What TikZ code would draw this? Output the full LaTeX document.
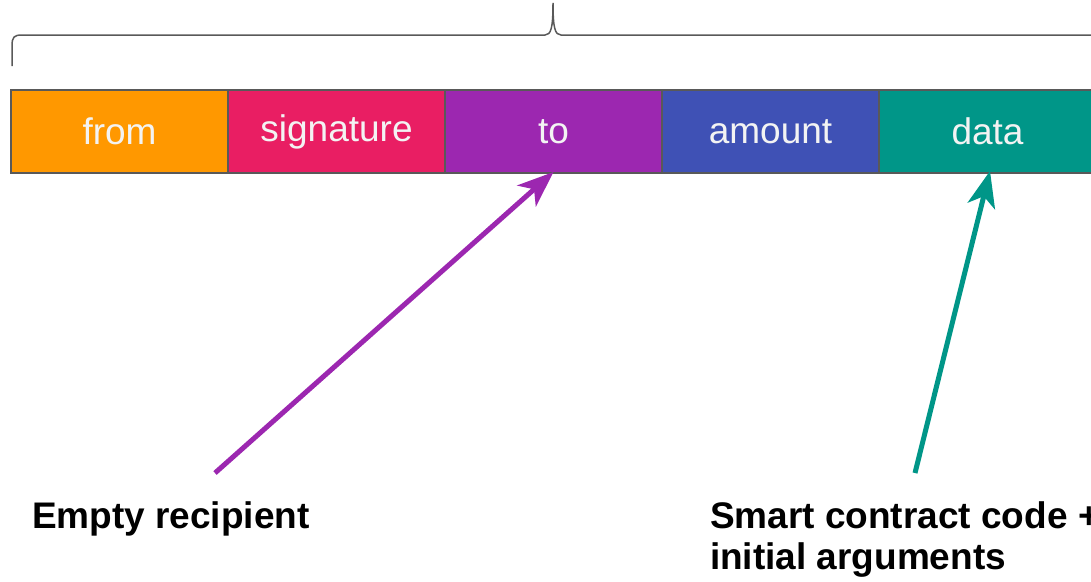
\documentclass[tikz,border=0pt]{standalone}
\usepackage{fontspec}
\setmainfont{Liberation Sans}
\usetikzlibrary{arrows.meta}
\definecolor{cOrange}{HTML}{FF9800}
\definecolor{cPink}{HTML}{E91E63}
\definecolor{cPurple}{HTML}{9C27B0}
\definecolor{cIndigo}{HTML}{3F51B5}
\definecolor{cTeal}{HTML}{009688}
\definecolor{cEdge}{HTML}{595959}
\definecolor{cText}{HTML}{F3F3F3}
\tikzset{
  field/.style={draw=cEdge, line width=2pt, minimum width=217pt, minimum height=83pt,
    inner sep=0pt, outer sep=0pt, text=cText, font=\fontsize{37}{40}\selectfont},
  note/.style={inner sep=0pt, outer sep=0pt, anchor=base west, align=left,
    font=\fontsize{37}{41}\selectfont\bfseries},
  pointer/.style={line width=5pt, -{Stealth[length=36pt,width=28pt,inset=10pt]}},
}
\begin{document}
\begin{tikzpicture}[x=1pt,y=-1pt]
\useasboundingbox (0,0) rectangle (1091,581);
\begin{scope}
\clip (0,0) rectangle (1091,581);
% transaction fields
\node[field, fill=cOrange] (from)   at (119.5,131.5) {from};
\node[field, fill=cPink]   (sig)    at (336.5,131.5) {signature};
\node[field, fill=cPurple] (to)     at (553.5,131.5) {to};
\node[field, fill=cIndigo] (amount) at (770.5,131.5) {amount};
\node[field, fill=cTeal]   (data)   at (987.5,131.5) {data};
% brace over the whole transaction
\draw[cEdge, line width=1.5pt]
  (12,66) -- (12,46) .. controls (12,37) and (14,35) .. (22,35)
  -- (545,35) .. controls (551,35) and (553,28) .. (553,3)
  .. controls (553,28) and (555,35) .. (561,35) -- (1100,35);
% annotations (the second label's last baseline sits at y=569)
\node[note] (empty) at (32,528) {Empty recipient};
\node[note] (code) at (710,569) {Smart contract code +\\initial arguments};
\coordinate (p1) at (215,473);
\coordinate (p2) at (915,473);
\draw[pointer, cPurple] (p1) -- ([yshift=1pt]to.south);
\draw[pointer, cTeal] (p2) -- ([xshift=2.5pt,yshift=2pt]data.south);
\end{scope}
\end{tikzpicture}
\end{document}
